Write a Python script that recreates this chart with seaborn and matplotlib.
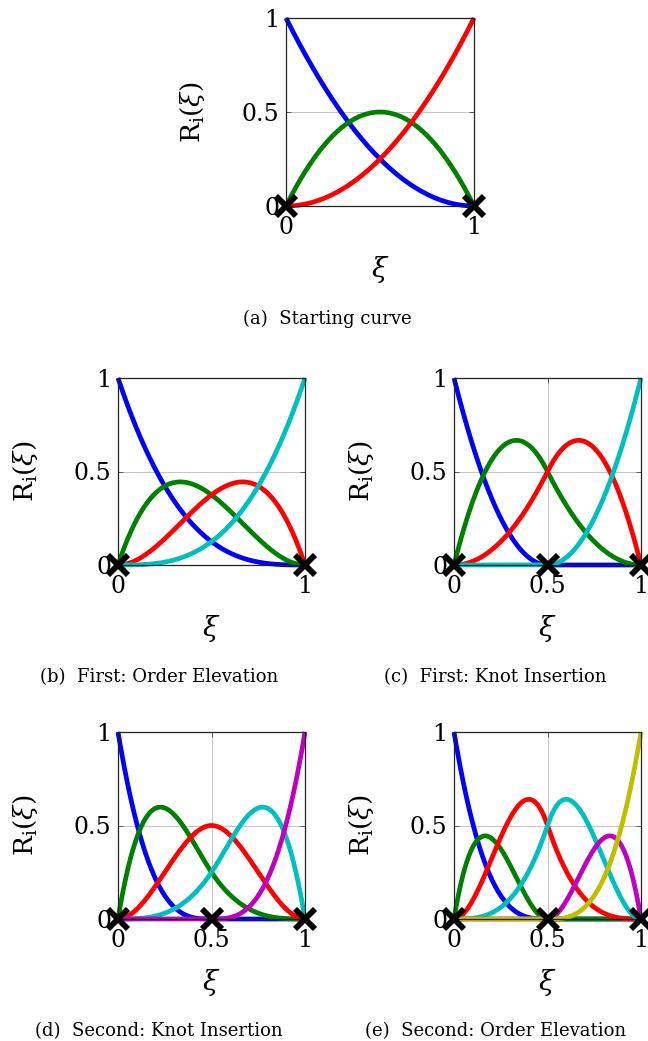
import numpy as np
import pandas as pd
import matplotlib
matplotlib.use("Agg")
import matplotlib.pyplot as plt
import seaborn as sns

# B-spline bases shown in each panel: polynomial degree and knot vector
panel_captions = [
    "(a)  Starting curve",
    "(b)  First: Order Elevation",
    "(c)  First: Knot Insertion",
    "(d)  Second: Knot Insertion",
    "(e)  Second: Order Elevation",
]
degrees = [2, 3, 2, 3, 3]
knots_a = [0, 0, 0, 1, 1, 1]
knots_b = [0, 0, 0, 0, 1, 1, 1, 1]
knots_c = [0, 0, 0, 0.5, 1, 1, 1]
knots_d = [0, 0, 0, 0, 0.5, 1, 1, 1, 1]
knots_e = [0, 0, 0, 0, 0.5, 0.5, 1, 1, 1, 1]
knot_vectors = [knots_a, knots_b, knots_c, knots_d, knots_e]
xtick_sets = [[0, 1], [0, 1], [0, 0.5, 1], [0, 0.5, 1], [0, 0.5, 1]]
xtick_labels = [["0", "1"], ["0", "1"], ["0", "0.5", "1"], ["0", "0.5", "1"], ["0", "0.5", "1"]]
ytick_values = [0, 0.5, 1]
ytick_labels = ["0", "0.5", "1"]
curve_colors = ["#0000ff", "#008000", "#ff0000", "#00bfbf", "#bf00bf", "#bfbf00"]


def bspline_basis(knots, p, xi):
    """Cox-de Boor evaluation of all basis functions of degree p."""
    t = np.asarray(knots, dtype=float)
    m = len(t) - 1
    N = np.zeros((m, xi.size))
    for i in range(m):
        N[i] = (xi >= t[i]) & (xi < t[i + 1])
    # close the last non-empty span at the right end
    last = max(i for i in range(m) if t[i + 1] > t[i])
    N[last, xi == t[-1]] = 1.0
    for k in range(1, p + 1):
        Nk = np.zeros((m - k, xi.size))
        for i in range(m - k):
            d1 = t[i + k] - t[i]
            d2 = t[i + k + 1] - t[i + 1]
            a = (xi - t[i]) / d1 * N[i] if d1 > 0 else 0.0
            b = (t[i + k + 1] - xi) / d2 * N[i + 1] if d2 > 0 else 0.0
            Nk[i] = a + b
        N = Nk
    return N


W, H = 648, 1041
plt.rcParams["figure.dpi"] = 100
sns.set_theme(style="white")
plt.rcParams["font.family"] = ["DejaVu Serif"]
plt.rcParams["mathtext.fontset"] = "dejavuserif"
plt.rcParams["text.color"] = "black"
plt.rcParams["xtick.labelcolor"] = "black"
plt.rcParams["ytick.labelcolor"] = "black"

fig = plt.figure(figsize=(W / 100, H / 100), dpi=100)

# axes boxes in pixels: left, top, size
boxes = [(286, 18, 188), (118, 378, 187), (454, 378, 187), (118, 732, 187), (454, 732, 187)]

xi = np.linspace(0.0, 1.0, 801)

for idx, (left, top, size) in enumerate(boxes):
    ax = fig.add_axes([left / W, 1 - (top + size) / H, size / W, size / H])
    p = degrees[idx]
    knots = knot_vectors[idx]
    N = bspline_basis(knots, p, xi)
    n = N.shape[0]
    df = pd.DataFrame({
        "xi": np.tile(xi, n),
        "R": N.ravel(),
        "i": np.repeat(np.arange(n), xi.size),
    })
    sns.lineplot(data=df, x="xi", y="R", hue="i", palette=curve_colors[:n],
                 hue_order=list(range(n)), estimator=None, sort=False,
                 legend=False, linewidth=3.4, ax=ax)
    for line in ax.get_lines():
        line.set_clip_on(False)
        line.set_solid_capstyle("butt")

    # knots marked with crosses
    uk = np.unique(knots)
    ax.plot(uk, np.zeros_like(uk), linestyle="none", marker="x", ms=14, mew=4.2,
            color="black", clip_on=False, zorder=5)

    ax.set_xlim(0, 1)
    ax.set_ylim(0, 1)
    ax.set_xticks(xtick_sets[idx])
    ax.set_xticklabels(xtick_labels[idx])
    ax.set_yticks(ytick_values)
    ax.set_yticklabels(ytick_labels)
    ax.grid(True, color="#c4c4c4", linewidth=0.7)
    ax.tick_params(axis="both", direction="in", length=3.5, width=0.7, color="#555555",
                   labelsize=17, labelcolor="black",
                   top=True, right=True, bottom=True, left=True)
    ax.tick_params(axis="x", pad=7)
    ax.tick_params(axis="y", pad=5)
    for s in ax.spines.values():
        s.set_color("#222222")
        s.set_linewidth(0.9)
        s.set_visible(True)
    ax.set_xlabel("")
    ax.set_ylabel("")

    ax.text(-0.495, 0.5, r"$\mathrm{R}_\mathrm{i}(\xi)$", transform=ax.transAxes,
            rotation=90, ha="center", va="center", fontsize=19)
    ax.text(0.5, -0.34, r"$\xi$", transform=ax.transAxes,
            ha="center", va="center", fontsize=20)
    ax.text(0.22, -0.60, panel_captions[idx], transform=ax.transAxes,
            ha="center", va="center", fontsize=13)

fig.savefig("out.png", dpi=100)
